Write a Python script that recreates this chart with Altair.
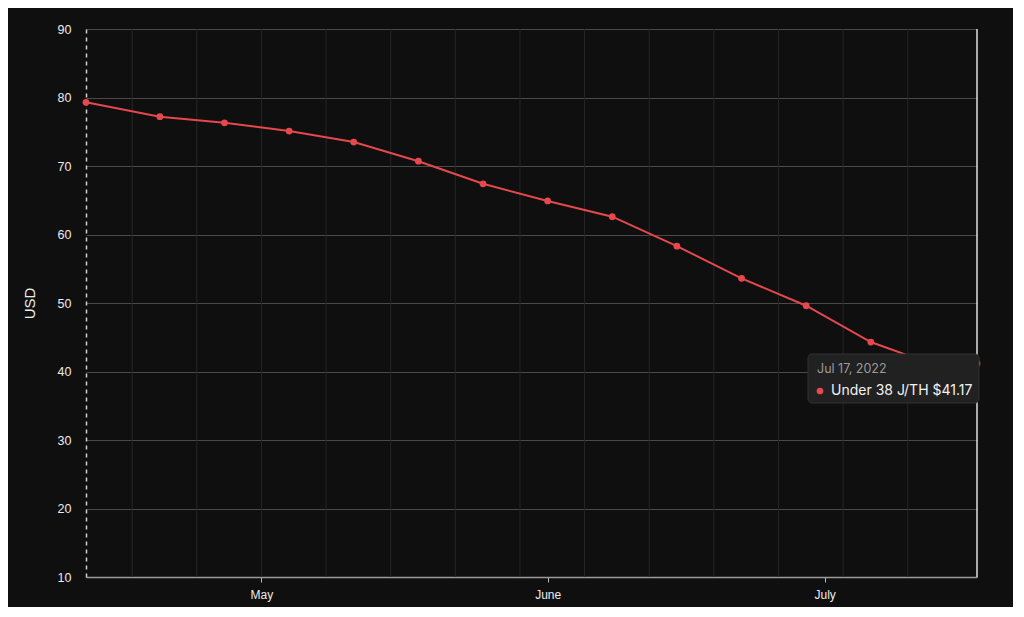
import altair as alt
import pandas as pd

# ---- data ----
dates = ["2022-04-12T00:00:00", "2022-04-20T00:00:00", "2022-04-27T00:00:00",
         "2022-05-04T00:00:00", "2022-05-11T00:00:00", "2022-05-18T00:00:00",
         "2022-05-25T00:00:00", "2022-06-01T00:00:00", "2022-06-08T00:00:00",
         "2022-06-15T00:00:00", "2022-06-22T00:00:00", "2022-06-29T00:00:00",
         "2022-07-06T00:00:00", "2022-07-13T00:00:00", "2022-07-17T12:00:00"]
values = [79.3, 77.2, 76.3, 75.1, 73.5, 70.7, 67.4, 64.9, 62.6,
          58.3, 53.6, 49.6, 44.3, 40.9, 41.17]
series_name = "Under 38 J/TH"
grid_weeks = ["2022-04-17T00:00:00", "2022-04-24T00:00:00", "2022-05-01T00:00:00",
              "2022-05-08T00:00:00", "2022-05-15T00:00:00", "2022-05-22T00:00:00",
              "2022-05-29T00:00:00", "2022-06-05T00:00:00", "2022-06-12T00:00:00",
              "2022-06-19T00:00:00", "2022-06-26T00:00:00", "2022-07-03T00:00:00",
              "2022-07-10T00:00:00"]
y_ticks = [10, 20, 30, 40, 50, 60, 70, 80, 90]
hover_date = [dates[-1]]
tooltip_title = "Jul 17, 2022"
tooltip_label = f"{series_name} ${values[-1]:.2f}"

RED = "#e5484d"
BG = "#0f0f0f"
FONT = "Liberation Sans"

df = pd.DataFrame({"date": dates, "usd": values})
grid_df = pd.DataFrame({"date": grid_weeks})
hover_df = pd.DataFrame({"date": hover_date})
tip_df = pd.DataFrame({"title": [tooltip_title], "label": [tooltip_label]})

x_scale = alt.Scale(domain=[alt.DateTime(year=2022, month=4, date=12),
                            alt.DateTime(year=2022, month=7, date=17, hours=12)])
y_scale = alt.Scale(domain=[10, 90], nice=False)

x_axis = alt.Axis(
    values=[alt.DateTime(year=2022, month=5, date=1),
            alt.DateTime(year=2022, month=6, date=1),
            alt.DateTime(year=2022, month=7, date=1)],
    format="%B", grid=False, title=None,
    domainColor="#9a9a9a", domainWidth=1.5,
    tickColor="#bbbbbb", tickSize=5, tickWidth=1,
    labelColor="#ececec", labelFontSize=12, labelFont=FONT, labelPadding=7,
)
y_axis = alt.Axis(
    values=y_ticks, title="USD", grid=True, gridColor="#4a4a4a", gridWidth=1,
    domain=True, domainColor="#d0d0d0", domainDash=[4, 4], domainWidth=1.5,
    ticks=False, labelPadding=15, labelColor="#ececec", labelFontSize=12.5,
    labelFont=FONT, titleColor="#ececec", titleFontSize=15, titleFont=FONT,
    titleFontWeight="normal", titlePadding=20,
)

vgrid = alt.Chart(grid_df).mark_rule(color="#262626", strokeWidth=1).encode(
    x=alt.X("date:T", scale=x_scale, axis=x_axis),
)

base = alt.Chart(df).encode(
    x=alt.X("date:T", scale=x_scale, axis=x_axis),
    y=alt.Y("usd:Q", scale=y_scale, axis=y_axis),
)
line = base.mark_line(color=RED, strokeWidth=2)
pts = base.mark_circle(color=RED, size=46, opacity=1)

cross = alt.Chart(hover_df).mark_rule(color="#e0e0e0", strokeWidth=1.5).encode(
    x=alt.X("date:T", scale=x_scale),
)

tip_box = alt.Chart(tip_df).mark_rect(
    fill="#212121", stroke="#333333", strokeWidth=1, cornerRadius=4
).encode(x=alt.value(722), x2=alt.value(893), y=alt.value(325), y2=alt.value(374))
tip_title = alt.Chart(tip_df).mark_text(
    align="left", baseline="middle", color="#9a9a9a", fontSize=12.5, font="Inter"
).encode(x=alt.value(731), y=alt.value(340), text="title:N")
tip_dot = alt.Chart(tip_df).mark_circle(color=RED, size=45, opacity=1).encode(
    x=alt.value(734), y=alt.value(362))
tip_text = alt.Chart(tip_df).mark_text(
    align="left", baseline="middle", color="#f2f2f2", fontSize=14, font="Inter"
).encode(x=alt.value(745), y=alt.value(362), text="label:N")

chart = alt.layer(vgrid, line, pts, cross, tip_box, tip_title, tip_dot, tip_text).properties(
    width=891, height=548,
    autosize=alt.AutoSizeParams(type="none"),
    padding={"left": 78, "top": 21, "right": 36, "bottom": 30},
    background=BG,
).configure_view(stroke=None)

chart.save("out.html", embed_options={"renderer": "svg", "actions": False})
